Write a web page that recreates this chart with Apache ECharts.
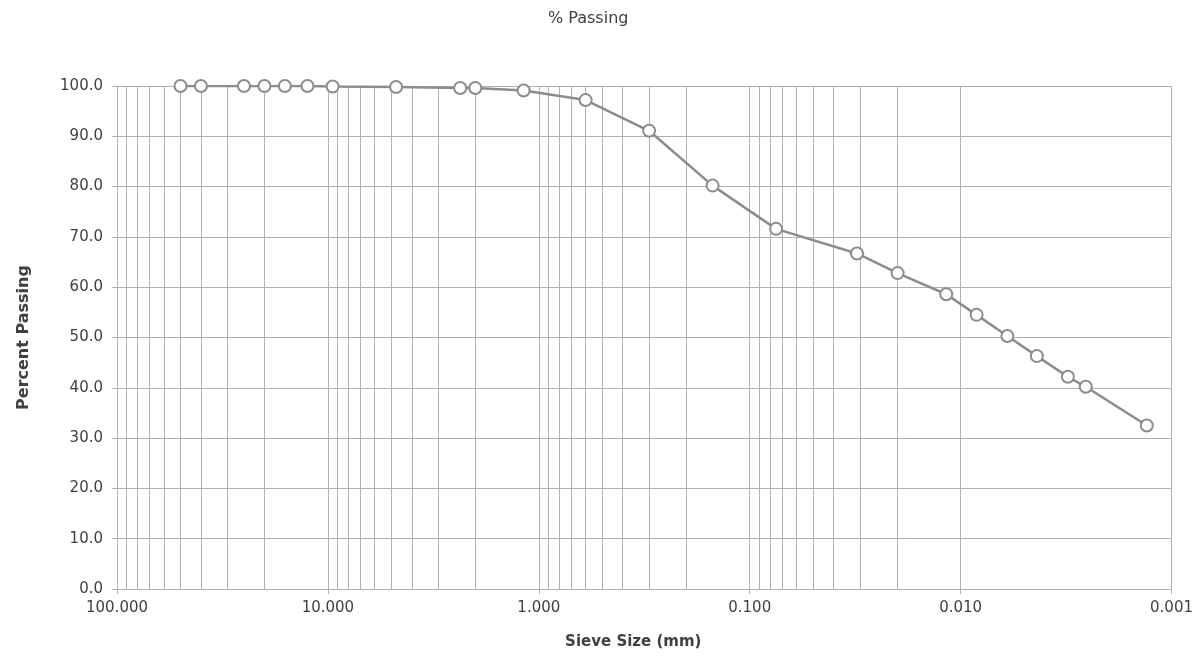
<!DOCTYPE html>
<html>
<head>
<meta charset="utf-8">
<script src="https://cdn.jsdelivr.net/npm/echarts@6/dist/echarts.min.js"></script>
<style>
html,body{margin:0;padding:0;background:#fff;overflow:hidden;}
#chart{width:1196px;height:663px;}
</style>
</head>
<body>
<div id="chart"></div>
<script>
// Sieve sizes (mm) and percent passing
const sieveSizes = [50, 40, 25, 20, 16, 12.5, 9.5, 4.75, 2.36, 2.0, 1.18, 0.6, 0.3, 0.15, 0.075,
  0.031, 0.0199, 0.0117, 0.0084, 0.0060, 0.00435, 0.0031, 0.00255, 0.00131];
const percentPassing = [100, 100, 100, 100, 100, 100, 99.9, 99.8, 99.6, 99.6, 99.1, 97.2, 91.1, 80.2, 71.6,
  66.7, 62.8, 58.6, 54.5, 50.3, 46.3, 42.2, 40.2, 32.5];
const xTickLabels = ['100.000', '10.000', '1.000', '0.100', '0.010', '0.001'];
const yTickLabels = ['0.0','10.0','20.0','30.0','40.0','50.0','60.0','70.0','80.0','90.0','100.0'];

// minor log gridlines (2..9 x each decade)
const minorGrid = [];
for (let e = -3; e < 2; e++) {
  for (let m = 2; m <= 9; m++) minorGrid.push(m * Math.pow(10, e));
}

const FONT = 'DejaVu Sans';
const TXT = '#404040';
const GRID = '#b0b0b0';

const chart = echarts.init(document.getElementById('chart'), null, {renderer: 'canvas'});
chart.setOption({
  animation: false,
  backgroundColor: '#ffffff',
  title: {
    text: '% Passing',
    left: 543,
    top: 6,
    textStyle: {fontFamily: FONT, fontSize: 16, fontWeight: 'normal', color: TXT}
  },
  grid: {left: 117, right: 20, top: 86, bottom: 74, containLabel: false},
  xAxis: {
    type: 'log',
    logBase: 10,
    min: 0.001,
    max: 100,
    inverse: true,
    splitNumber: 5,
    name: 'Sieve Size (mm)',
    nameLocation: 'middle',
    nameGap: 46,
    nameTextStyle: {fontFamily: FONT, fontSize: 15, fontWeight: 'bold', color: TXT, padding: [0, 22, 0, 0]},
    axisLine: {show: true, lineStyle: {color: GRID, width: 1}},
    axisTick: {show: true, length: 5, lineStyle: {color: GRID}},
    axisLabel: {
      fontFamily: FONT, fontSize: 15, color: TXT, margin: 12,
      formatter: function (v) {
        const idx = Math.round(2 - Math.log10(v));
        return xTickLabels[idx] !== undefined ? xTickLabels[idx] : '';
      }
    },
    splitLine: {show: true, lineStyle: {color: GRID, width: 1}}
  },
  yAxis: {
    type: 'value',
    min: 0,
    max: 100,
    interval: 10,
    name: 'Percent Passing',
    nameLocation: 'middle',
    nameGap: 85,
    nameRotate: 90,
    nameTextStyle: {fontFamily: FONT, fontSize: 16, fontWeight: 'bold', color: TXT},
    axisLine: {show: true, lineStyle: {color: GRID, width: 1}},
    axisTick: {show: true, length: 5, lineStyle: {color: GRID}},
    axisLabel: {
      fontFamily: FONT, fontSize: 15, color: TXT, margin: 14,
      formatter: function (v) { return yTickLabels[Math.round(v / 10)]; }
    },
    splitLine: {show: true, lineStyle: {color: GRID, width: 1}}
  },
  series: [{
    type: 'line',
    data: sieveSizes.map((s, i) => [s, percentPassing[i]]),
    symbol: 'circle',
    symbolSize: 12,
    showAllSymbol: true,
    lineStyle: {color: '#8c8c8c', width: 2.5},
    itemStyle: {color: '#ffffff', borderColor: '#8c8c8c', borderWidth: 2},
    z: 5,
    markLine: {
      silent: true,
      symbol: ['none', 'none'],
      label: {show: false},
      lineStyle: {color: GRID, width: 1, type: 'solid'},
      emphasis: {disabled: true},
      z: 1,
      data: minorGrid.map(v => ({xAxis: v}))
    }
  }]
});
</script>
</body>
</html>
